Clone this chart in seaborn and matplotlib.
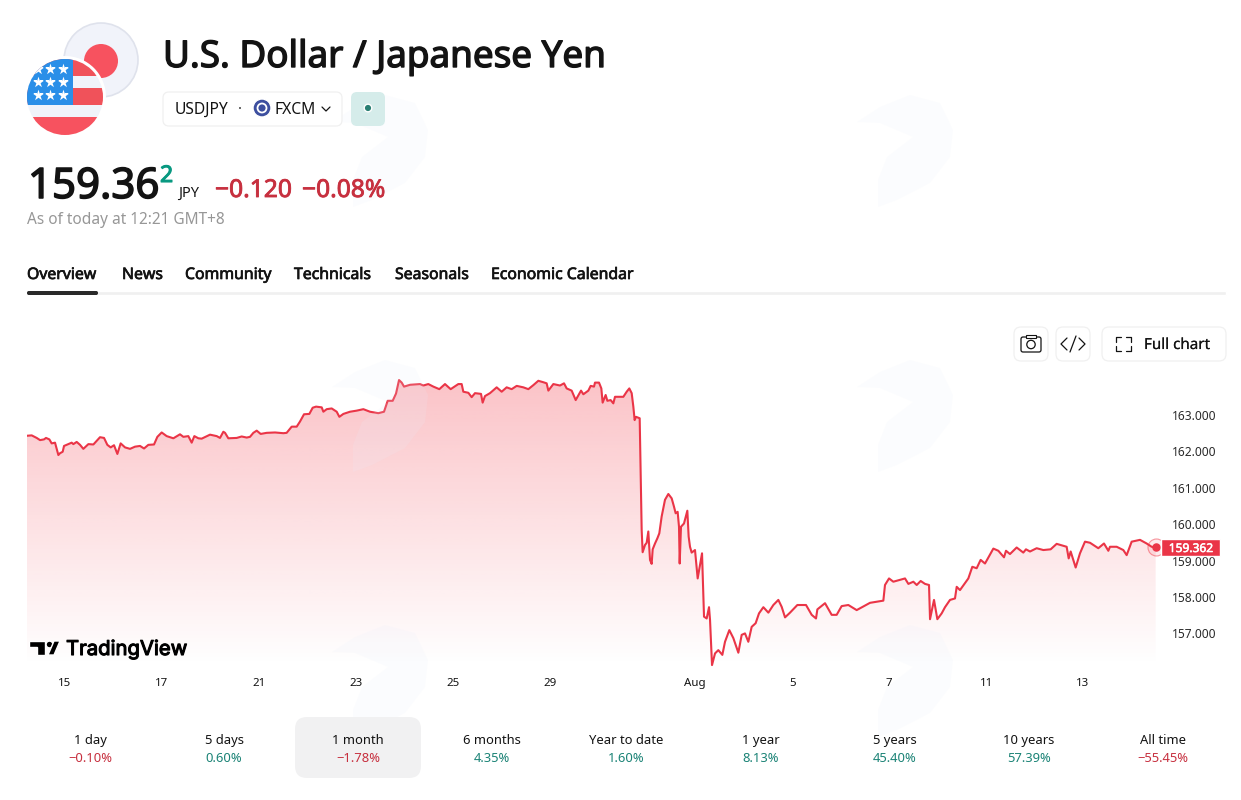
import numpy as np
import matplotlib
matplotlib.use("Agg")
import matplotlib.pyplot as plt
import matplotlib.patheffects as pe
import seaborn as sns
from matplotlib.patches import Circle, FancyBboxPatch, Polygon, Rectangle

# trading sessions since 15 Jul (1.0 = one session) and USDJPY close
session = [
    -0.784, -0.687, -0.584, -0.515, -0.433, -0.392, -0.323, -0.275, -0.206, -0.137, -0.103, -0.048, -0.020,
    0.069, 0.138, 0.172, 0.241, 0.310, 0.378, 0.482, 0.585, 0.722, 0.805, 0.873, 0.942,
    1.011, 1.080, 1.148, 1.238, 1.341, 1.444, 1.547, 1.630, 1.719, 1.836, 1.905, 1.994,
    2.097, 2.235, 2.372, 2.441, 2.544, 2.613, 2.668, 2.751, 2.819, 2.991,
    3.129, 3.197, 3.266, 3.301, 3.369, 3.541, 3.644, 3.748, 3.816, 3.885, 3.954,
    4.036, 4.160, 4.332, 4.504, 4.572, 4.676, 4.779, 4.847, 4.930,
    5.040, 5.109, 5.178, 5.295, 5.329, 5.398, 5.501, 5.604, 5.659, 5.742, 5.879,
    6.017, 6.154, 6.291, 6.463, 6.580, 6.656, 6.759, 6.828, 6.890, 6.945, 6.993,
    7.117, 7.323, 7.391, 7.494, 7.598, 7.721, 7.838, 7.955,
    8.113, 8.182, 8.216, 8.320, 8.388, 8.457, 8.581, 8.615, 8.663, 8.766, 8.904,
    9.007, 9.110, 9.213, 9.317, 9.454, 9.557, 9.660, 9.763, 9.867, 9.935, 9.970,
    10.073, 10.210, 10.293, 10.348, 10.451, 10.534, 10.644, 10.692, 10.795, 10.843, 10.912, 10.932,
    11.015, 11.063, 11.090, 11.152, 11.187, 11.255, 11.310, 11.345, 11.517, 11.586, 11.640, 11.689,
    11.723, 11.750, 11.778, 11.854, 11.874, 11.895, 11.915, 11.964, 11.998,
    12.032, 12.067, 12.101, 12.122, 12.170, 12.218, 12.259, 12.307, 12.376, 12.445, 12.514, 12.562,
    12.596, 12.637, 12.665, 12.679, 12.706, 12.768, 12.837, 12.864, 12.892, 12.926, 12.995,
    13.050, 13.140, 13.181, 13.236, 13.284, 13.305, 13.346, 13.408, 13.476, 13.559, 13.614, 13.703, 13.786, 13.889, 13.958,
    14.026, 14.095, 14.164, 14.246, 14.315, 14.405, 14.508, 14.611, 14.714, 14.783, 14.852, 14.955,
    15.106, 15.285, 15.402, 15.491, 15.519, 15.677, 15.814, 15.917,
    16.020, 16.158, 16.330, 16.605, 16.880, 16.914, 16.997,
    17.086, 17.327, 17.396, 17.499, 17.568, 17.650, 17.739, 17.822, 17.843, 17.925, 17.994,
    18.083, 18.152, 18.255, 18.358, 18.393, 18.461, 18.633, 18.715, 18.805, 18.887, 18.977,
    19.149, 19.252, 19.369, 19.410, 19.492, 19.630, 19.767, 19.822, 19.905,
    20.042, 20.180, 20.331, 20.455, 20.661, 20.703, 20.744, 20.847, 20.936,
    21.039, 21.143, 21.314, 21.431, 21.521, 21.555, 21.693, 21.830, 21.899,
    22.002, 22.174, 22.311, 22.414, 22.497,
]
price = [
    162.43, 162.44, 162.37, 162.31, 162.33, 162.37, 162.33, 162.22, 162.24, 161.90, 161.95, 161.99, 162.15,
    162.20, 162.24, 162.20, 162.26, 162.18, 162.07, 162.20, 162.19, 162.39, 162.37, 162.18, 162.11,
    162.17, 161.93, 162.22, 162.11, 162.07, 162.13, 162.15, 162.08, 162.18, 162.19, 162.40, 162.52,
    162.42, 162.36, 162.47, 162.40, 162.42, 162.24, 162.42, 162.36, 162.35, 162.46,
    162.42, 162.37, 162.54, 162.51, 162.36, 162.37, 162.41, 162.38, 162.40, 162.51, 162.57,
    162.48, 162.51, 162.52, 162.50, 162.51, 162.68, 162.68, 162.82, 163.02,
    163.03, 163.20, 163.23, 163.21, 163.09, 163.16, 163.18, 163.09, 162.95, 163.03, 163.09,
    163.12, 163.16, 163.09, 163.05, 163.09, 163.39, 163.39, 163.59, 163.96, 163.89, 163.78,
    163.83, 163.85, 163.81, 163.85, 163.78, 163.71, 163.85, 163.71,
    163.85, 163.85, 163.64, 163.61, 163.49, 163.60, 163.58, 163.34, 163.52, 163.60, 163.76,
    163.64, 163.76, 163.71, 163.80, 163.76, 163.71, 163.82, 163.94, 163.90, 163.87, 163.67,
    163.85, 163.81, 163.87, 163.73, 163.67, 163.41, 163.67, 163.57, 163.67, 163.80, 163.78, 163.89,
    163.89, 163.73, 163.34, 163.55, 163.39, 163.41, 163.32, 163.50, 163.50, 163.64, 163.73, 163.60,
    163.23, 162.86, 162.95, 162.91, 161.49, 159.84, 159.23, 159.43, 159.49,
    159.80, 159.02, 158.91, 159.31, 159.47, 159.61, 159.75, 160.21, 160.67, 160.83, 160.71, 160.48,
    160.30, 160.34, 159.93, 158.92, 159.93, 160.02, 160.37, 159.66, 159.38, 159.22, 159.29,
    158.51, 159.20, 157.46, 157.41, 157.72, 157.37, 156.13, 156.45, 156.54, 156.41, 156.77, 157.09, 156.87, 156.47, 156.96,
    157.00, 156.77, 157.18, 157.28, 157.55, 157.72, 157.57, 157.78, 157.92, 157.73, 157.44, 157.57,
    157.78, 157.78, 157.51, 157.41, 157.66, 157.83, 157.51, 157.51,
    157.75, 157.78, 157.64, 157.84, 157.90, 158.33, 158.51,
    158.42, 158.51, 158.36, 158.42, 158.33, 158.44, 158.36, 158.33, 157.39, 157.92, 157.39,
    157.55, 157.72, 157.92, 157.96, 158.28, 158.19, 158.51, 158.83, 158.79, 159.02, 158.92,
    159.33, 159.27, 159.09, 159.27, 159.18, 159.36, 159.22, 159.31, 159.25,
    159.34, 159.29, 159.31, 159.46, 159.38, 159.06, 159.25, 158.81, 159.20,
    159.52, 159.49, 159.34, 159.47, 159.27, 159.38, 159.38, 159.29, 159.15,
    159.52, 159.57, 159.47, 159.38, 159.36,
]
last_price = 159.362

date_ticks = [0, 2, 4, 6, 8, 10, 13, 15, 17, 19, 21]
date_labels = ["15", "17", "21", "23", "25", "29", "Aug", "5", "7", "11", "13"]
price_ticks = [157, 158, 159, 160, 161, 162, 163]

tab_names = ["Overview", "News", "Community", "Technicals", "Seasonals", "Economic Calendar"]
tab_left = [27, 122, 185, 294, 395, 491]
period_names = ["1 day", "5 days", "1 month", "6 months", "Year to date", "1 year", "5 years", "10 years", "All time"]
period_changes = [-0.10, 0.60, -1.78, 4.35, 1.60, 8.13, 45.40, 57.39, -55.45]

RED = "#ea3547"
DOWN = "#c7303f"
UP = "#1b8376"
INK = "#131313"

sns.set_theme(style="white")
plt.rcParams["font.family"] = ["Noto Sans", "DejaVu Sans"]

W, H = 1241, 800
fig = plt.figure(figsize=(W / 100, H / 100), dpi=100, facecolor="white")


def px(n):
    # pixels to points
    return n * 0.72


# chart area, placed in figure pixels
left, right, top, bottom = 27, 1160, 375, 668
ax = fig.add_axes([left / W, 1 - bottom / H, (right - left) / W, (bottom - top) / H], zorder=1)
ax.patch.set_alpha(0)
sns.lineplot(x=session, y=price, ax=ax, color=RED, linewidth=1.5, estimator=None, sort=False, errorbar=None, zorder=4)
ax.set_xlim(-0.784, (right - 65) / 48.48)
ax.set_ylim(163 - (bottom - 415) / 36.4, 163 - (top - 415) / 36.4)

# gradient under the line
band = ax.fill_between(session, price, ax.get_ylim()[0], color="none")
shade = np.zeros((256, 2, 4))
shade[..., :3] = matplotlib.colors.to_rgb("#f23645")
shade[..., 3] = np.linspace(0.30, 0.0, 256)[:, None]
img = ax.imshow(shade, extent=[-0.784, session[-1], ax.get_ylim()[0] + 0.08, max(price)], aspect="auto", origin="upper", zorder=2)
img.set_clip_path(band.get_paths()[0], transform=ax.transData)
ax.set_xlim(-0.784, (right - 65) / 48.48)
ax.set_ylim(163 - (bottom - 415) / 36.4, 163 - (top - 415) / 36.4)

# end of the line
ax.scatter([session[-1]], [last_price], s=150, facecolor=(0.95, 0.21, 0.27, 0.10), edgecolor=(0.95, 0.21, 0.27, 0.5), linewidth=0.8, zorder=5)
ax.scatter([session[-1]], [last_price], s=26, color=RED, zorder=6)

ax.set_xticks(date_ticks, date_labels)
ax.set_yticks(price_ticks, [f"{v:.3f}" for v in price_ticks])
ax.yaxis.tick_right()
ax.tick_params(axis="x", length=0, pad=7, labelsize=px(11.5), labelcolor=INK)
ax.tick_params(axis="y", length=0, pad=8.5, labelsize=px(12), labelcolor="#2a2a2a")
ax.grid(False)
sns.despine(ax=ax, left=True, bottom=True, right=True, top=True)
ax.set_xlabel("")
ax.set_ylabel("")

# page furniture in figure pixels
ui = fig.add_axes([0, 0, 1, 1], zorder=2)
ui.set_xlim(0, W)
ui.set_ylim(H, 0)
ui.axis("off")
ui.patch.set_alpha(0)


def box(x0, y0, x1, y1, r, face="white", edge="#f0f0f0", lw=0.9, z=3):
    p = FancyBboxPatch((x0 + r, y0 + r), x1 - x0 - 2 * r, y1 - y0 - 2 * r, boxstyle=f"round,pad={r},rounding_size={r}",
                       facecolor=face, edgecolor=edge, linewidth=lw, zorder=z)
    ui.add_patch(p)
    return p


def label(x, y, s, size, color=INK, heavy=0, ha="left", family=None, z=6):
    t = ui.text(x, y, s, fontsize=px(size), color=color, ha=ha, va="baseline", zorder=z)
    if family:
        t.set_family(family)
    if heavy:
        # the installed regular cut is too thin, thicken it a little
        t.set_path_effects([pe.withStroke(linewidth=heavy, foreground=color)])
    return t


# faint watermark
mark = [(857, 122), (880, 107), (910, 95), (940, 103), (953, 130), (950, 157), (930, 183), (897, 200), (878, 207),
        (878, 180), (887, 157), (913, 137), (880, 123)]
for dx in (0, -525):
    for dy in (0, 265, 530):
        ui.add_patch(Polygon([(a + dx, b + dy) for a, b in mark], closed=True, facecolor="#e8eefb", alpha=0.15, edgecolor="none", zorder=1))

# flags
ui.add_patch(Circle((101, 60), 37, facecolor="#f1f3fa", edgecolor="#dfe2ec", linewidth=1.2, zorder=2))
ui.add_patch(Circle((101, 61), 17, facecolor="#f7525f", edgecolor="none", zorder=3))
ui.add_patch(Circle((65, 97), 41, facecolor="white", edgecolor="none", zorder=3))
us = Circle((65, 97), 38, transform=ui.transData)
for y0, h, c in [(59, 17, "#f0525a"), (76, 12, "#f0f3fa"), (88, 17, "#f0525a"), (105, 12, "#f0f3fa"), (117, 18, "#f7525f")]:
    rr = Rectangle((27, y0), 76, h, facecolor=c, edgecolor="none", zorder=4)
    ui.add_patch(rr)
    rr.set_clip_path(us)
canton = Rectangle((27, 59), 46, 46, facecolor="#2a8fe8", edgecolor="none", zorder=4.5)
ui.add_patch(canton)
canton.set_clip_path(us)
for sy in (69, 82, 95):
    for sx in (37.5, 50, 62.5):
        star = ui.scatter([sx], [sy], marker="*", s=70, color="white", linewidth=0, zorder=5)
        star.set_clip_path(us)

# title and symbol pill
label(163, 67, "U.S. Dollar / Japanese Yen", 36.8, heavy=1.0)
box(163, 92, 342, 126, 6)
label(175, 114, "USDJPY", 15.6)
ui.add_patch(Circle((240, 108), 1.6, facecolor=INK, zorder=6))
ui.add_patch(Circle((262, 108), 9, facecolor="#3d4f9f", zorder=6))
ui.add_patch(Circle((262, 108), 4.5, facecolor="none", edgecolor="white", linewidth=1.3, zorder=7))
label(274, 114, "FXCM", 15.6)
ui.plot([322, 326, 330], [107, 111, 107], color=INK, lw=0.9, zorder=6)
box(351, 92, 385, 126, 6, face="#d5ecea", edge="none")
ui.add_patch(Circle((368, 108), 3.8, facecolor="#2a7f73", zorder=6))

# quote
label(28, 198, "159.36", 42, heavy=1.1)
label(160, 182, "2", 23, color="#089981", heavy=0.8)
label(178, 197, "JPY", 14.5)
label(215, 197, "\u22120.120", 24.6, color=DOWN, heavy=0.6)
label(302, 197, "\u22120.08%", 24.6, color=DOWN, heavy=0.6)
label(27, 224, "As of today at 12:21 GMT+8", 15.4, color="#979797")

# tabs
for name, x in zip(tab_names, tab_left):
    label(x, 279, name, 15.8, heavy=0.5)
ui.add_patch(Rectangle((27, 291), 1199, 3.5, facecolor="#f0f0f0", zorder=3))
box(27, 291, 98, 295, 1.8, face="#2a2a2a", edge="none", z=4)

# toolbar
box(1014, 327, 1048, 361, 7)
box(1056, 327, 1090, 361, 7)
box(1102, 327, 1226, 361, 7)
box(1021, 337, 1041, 352, 2, edge=INK, lw=0.9, z=5)
ui.add_patch(Rectangle((1026, 335), 10, 3, facecolor="white", edgecolor=INK, linewidth=0.8, zorder=5))
ui.add_patch(Circle((1031, 344.5), 4.2, facecolor="white", edgecolor=INK, linewidth=0.9, zorder=6))
ui.plot([1067, 1061, 1067], [338, 344, 350], color=INK, lw=0.9, zorder=6)
ui.plot([1079, 1085, 1079], [338, 344, 350], color=INK, lw=0.9, zorder=6)
ui.plot([1070, 1076], [352, 336], color=INK, lw=0.9, zorder=6)
for cx, cy, sx, sy in [(1116, 337, 1, 1), (1131, 337, -1, 1), (1116, 351, 1, -1), (1131, 351, -1, -1)]:
    ui.plot([cx, cx, cx + 5 * sx], [cy + 5 * sy, cy, cy], color=INK, lw=0.9, zorder=6)
label(1144, 349, "Full chart", 15.2, heavy=0.1)

# last price tag
ui.add_patch(Rectangle((1161, 539), 59, 17, facecolor=RED, zorder=5))
label(1191, 552, f"{last_price:.3f}", 12, color="white", heavy=0.4, ha="center")

# TradingView logo
ui.add_patch(Polygon([(29, 641), (45, 641), (45, 655), (37, 655), (37, 647), (29, 647)], facecolor="black", zorder=6))
ui.add_patch(Circle((49.5, 644.5), 3.4, facecolor="black", zorder=6))
ui.add_patch(Polygon([(48, 655), (54, 641), (60, 641), (54, 655)], facecolor="black", zorder=6))
label(66, 655, "TradingView", 20.3, color="black", heavy=0.8, family=["Inter", "DejaVu Sans"])

# period table
box(295, 717, 421, 778, 12, face="#f1f1f2", edge="none", z=2)
for i, (name, change) in enumerate(zip(period_names, period_changes)):
    cx = 90 + 134.1 * i
    text = f"{change:.2f}%".replace("-", "\u2212")
    label(cx, 744, name, 13, ha="center")
    label(cx, 762, text, 13, color=UP if change > 0 else DOWN, ha="center")

fig.savefig("out.png", dpi=100, facecolor="white")
